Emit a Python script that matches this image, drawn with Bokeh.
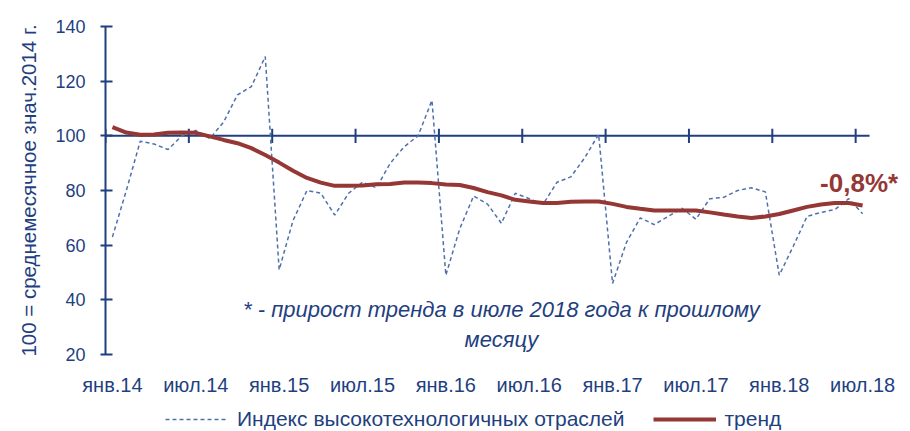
from bokeh.plotting import figure
from bokeh.layouts import column
from bokeh.models import Range1d, FixedTicker, Label, Legend, LegendItem, ColumnDataSource
from bokeh.embed import file_html
from bokeh.resources import INLINE

# ---- data ----
tick_labels = ["янв.14", "июл.14", "янв.15", "июл.15", "янв.16",
               "июл.16", "янв.17", "июл.17", "янв.18", "июл.18"]

index_values = [63, 80, 98, 97, 95, 100, 102, 99, 105, 115, 118, 129,
                51, 69, 80, 79, 71, 79, 83, 81, 90, 96, 100, 113,
                49, 66, 78, 75, 68, 79, 77, 75, 83, 85, 92, 100.5,
                46, 61, 70, 67.5, 70.5, 73.5, 69.5, 77, 77.5, 80, 81, 79.5,
                49, 59.5, 70.5, 72, 73, 77, 71.5]

trend_values = [103.2, 101.2, 100.4, 100.5, 101.1, 101.2, 101.1, 99.8, 98.5, 97.3, 95.5, 93,
                90.2, 87.2, 84.6, 82.9, 81.7, 81.7, 81.8, 82.3, 82.4, 82.9, 82.9, 82.7,
                82.2, 82, 80.9, 79.4, 78.2, 76.6, 76, 75.4, 75.4, 75.9, 76, 76,
                75.1, 74, 73.3, 72.7, 72.7, 72.7, 72.7, 72, 71.2, 70.5, 69.9, 70.5,
                71.4, 72.7, 74, 74.9, 75.4, 75.4, 74.5]

series_names = ["Индекс высокотехнологичных отраслей", "тренд"]
y_title = "100 = среднемесячное знач.2014 г."
note_lines = ["* - прирост тренда в июле 2018 года к прошлому", "месяцу"]
trend_note = "-0,8%*"

months = list(range(len(index_values)))
label_pos = months[::6]
n = len(months)

NAVY = "#1f3f7f"
BLUE = "#5070ad"
RED = "#953735"
FONT = "Liberation Sans"

src = ColumnDataSource(dict(m=months, idx=index_values, tr=trend_values))

p = figure(width=906, height=398, output_backend="svg", toolbar_location=None,
           x_range=Range1d(-0.5, n - 0.5 + 2.66), y_range=Range1d(20, 140),
           min_border_left=105, min_border_right=0, min_border_top=26, min_border_bottom=44)
p.outline_line_color = None
p.xgrid.visible = False
p.ygrid.visible = False

# y axis
p.yaxis.ticker = FixedTicker(ticks=[20, 40, 60, 80, 100, 120, 140])
p.yaxis.axis_line_color = NAVY
p.yaxis.axis_line_width = 2
p.yaxis.major_tick_line_color = NAVY
p.yaxis.major_tick_line_width = 2
p.yaxis.major_tick_in = 7
p.yaxis.major_tick_out = 5
p.yaxis.minor_tick_line_color = None
p.yaxis.major_label_standoff = 15
p.yaxis.major_label_text_font = FONT
p.yaxis.major_label_text_font_size = "18px"
p.yaxis.major_label_text_color = NAVY
p.yaxis.axis_label = y_title
p.yaxis.axis_label_text_font = FONT
p.yaxis.axis_label_text_font_size = "20.5px"
p.yaxis.axis_label_text_font_style = "normal"
p.yaxis.axis_label_text_color = NAVY
p.yaxis.axis_label_standoff = 12

# x axis (labels only)
p.xaxis.ticker = FixedTicker(ticks=label_pos)
p.xaxis.major_label_overrides = {m: t for m, t in zip(label_pos, tick_labels)}
p.xaxis.axis_line_color = None
p.xaxis.major_tick_line_color = None
p.xaxis.minor_tick_line_color = None
p.xaxis.major_tick_out = 0
p.xaxis.major_tick_in = 0
p.xaxis.major_label_standoff = 19
p.xaxis.major_label_text_font = FONT
p.xaxis.major_label_text_font_size = "20px"
p.xaxis.major_label_text_color = NAVY

# horizontal axis crossing at 100 with category-boundary ticks
p.segment(x0=[-0.5], x1=[n - 0.5], y0=[100], y1=[100], line_color=NAVY, line_width=2)
bounds = [m - 0.5 for m in label_pos]
p.segment(x0=bounds, x1=bounds, y0=[100 - 2.6] * len(bounds), y1=[100 + 2.6] * len(bounds),
          line_color=NAVY, line_width=2)

p.line("m", "idx", source=src, line_color=BLUE, line_width=1.5, line_dash="4 3")
p.line("m", "tr", source=src, line_color=RED, line_width=4)

# annotations
p.add_layout(Label(x=28, y=36.4, text=note_lines[0], text_align="center", text_baseline="middle",
                   text_font=FONT, text_font_size="22px", text_font_style="italic", text_color=NAVY))
p.add_layout(Label(x=28, y=25.4, text=note_lines[1], text_align="center", text_baseline="middle",
                   text_font=FONT, text_font_size="22px", text_font_style="italic", text_color=NAVY))
p.add_layout(Label(x=53.75, y=82.8, text=trend_note, text_align="center", text_baseline="alphabetic",
                   text_font=FONT, text_font_size="26px", text_font_style="bold", text_color=RED))

# legend strip below (its renderers hold the same series, drawn outside the strip's visible range)
lg = figure(width=906, height=33, output_backend="svg", toolbar_location=None,
            x_range=Range1d(-1000, -999), y_range=Range1d(-1000, -999),
            x_axis_location=None, y_axis_location=None,
            min_border_left=0, min_border_right=0, min_border_top=0, min_border_bottom=0)
lg.outline_line_color = None
lg.xgrid.visible = False
lg.ygrid.visible = False
r1 = lg.line("m", "idx", source=src, line_color=BLUE, line_width=1.5, line_dash="4 3")
r2 = lg.line("m", "tr", source=src, line_color=RED, line_width=4)
legend = Legend(items=[LegendItem(label=series_names[0], renderers=[r1]),
                       LegendItem(label=series_names[1], renderers=[r2])],
                orientation="horizontal", location=(60, 0),
                glyph_width=63, glyph_height=20, label_height=20, label_standoff=9, spacing=28,
                padding=0, margin=0, border_line_color=None, background_fill_alpha=0,
                label_text_font=FONT, label_text_font_size="21px", label_text_color=NAVY)
lg.add_layout(legend)

open("out.html", "w").write(file_html(column(p, lg, spacing=0), INLINE))
